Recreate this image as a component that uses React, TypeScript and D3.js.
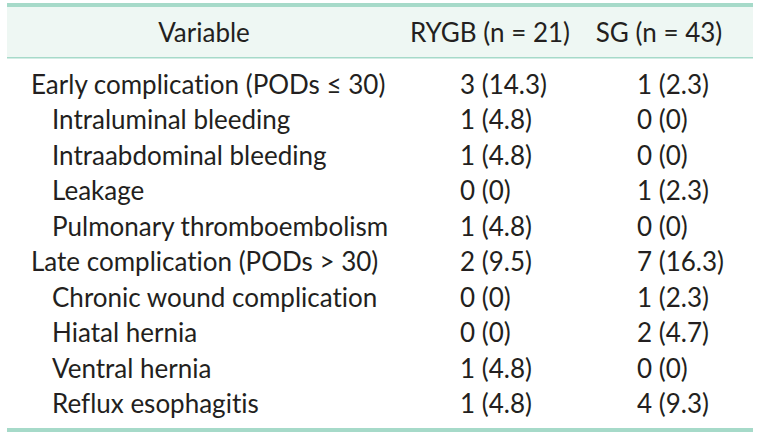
import React from 'react';
import * as d3 from 'd3';

const headers = ['Variable', 'RYGB (n = 21)', 'SG (n = 43)'];
const variables = [
  'Early complication (PODs ≤ 30)',
  'Intraluminal bleeding',
  'Intraabdominal bleeding',
  'Leakage',
  'Pulmonary thromboembolism',
  'Late complication (PODs > 30)',
  'Chronic wound complication',
  'Hiatal hernia',
  'Ventral hernia',
  'Reflux esophagitis',
];
const level = [0, 1, 1, 1, 1, 0, 1, 1, 1, 1];
const rygbCount = [3, 1, 1, 0, 1, 2, 0, 0, 1, 1];
const rygbPct = ['14.3', '4.8', '4.8', '0', '4.8', '9.5', '0', '0', '4.8', '4.8'];
const sgCount = [1, 0, 0, 1, 0, 7, 1, 2, 0, 4];
const sgPct = ['2.3', '0', '0', '2.3', '0', '16.3', '2.3', '4.7', '0', '9.3'];

const W = 758;
const H = 438;
const FONT = 'Lato, "Open Sans", sans-serif';
const FS = 26;
const TEXT = '#231f20';
const TEAL = '#a6dac9';
const HEAD_BG = '#eef7f3';

export default function App() {
  const left = 7;
  const right = 753;
  const y = d3.scaleLinear().domain([0, variables.length - 1]).range([94, 413]);
  const x = d3.scaleOrdinal<string, number>().domain(['label', 'sub', 'rygb', 'sg']).range([31, 52, 460, 637]);
  const hx = d3.scaleOrdinal<string, number>().domain(headers).range([204, 490, 659]);

  return (
    <svg width={W} height={H} style={{ position: 'absolute', left: 0, top: 0, background: '#fff', fontVariantLigatures: 'none' }}
      fontFamily={FONT} fontSize={FS} fill={TEXT}>
      <rect x={left} y={7} width={right - left} height={50} fill={HEAD_BG} />
      <rect x={left} y={3} width={right - left} height={4} fill={TEAL} />
      <rect x={left} y={57} width={right - left} height={1.5} fill={TEAL} />
      <rect x={left} y={428} width={right - left} height={4} fill={TEAL} />
      {headers.map((h) => (
        <text key={h} x={hx(h)} y={42} textAnchor="middle">{h}</text>
      ))}
      {variables.map((v, i) => (
        <g key={v}>
          <text x={level[i] ? x('sub') : x('label')} y={y(i)}>{v}</text>
          <text x={x('rygb')} y={y(i)}>{`${rygbCount[i]} (${rygbPct[i]})`}</text>
          <text x={x('sg')} y={y(i)}>{`${sgCount[i]} (${sgPct[i]})`}</text>
        </g>
      ))}
    </svg>
  );
}
